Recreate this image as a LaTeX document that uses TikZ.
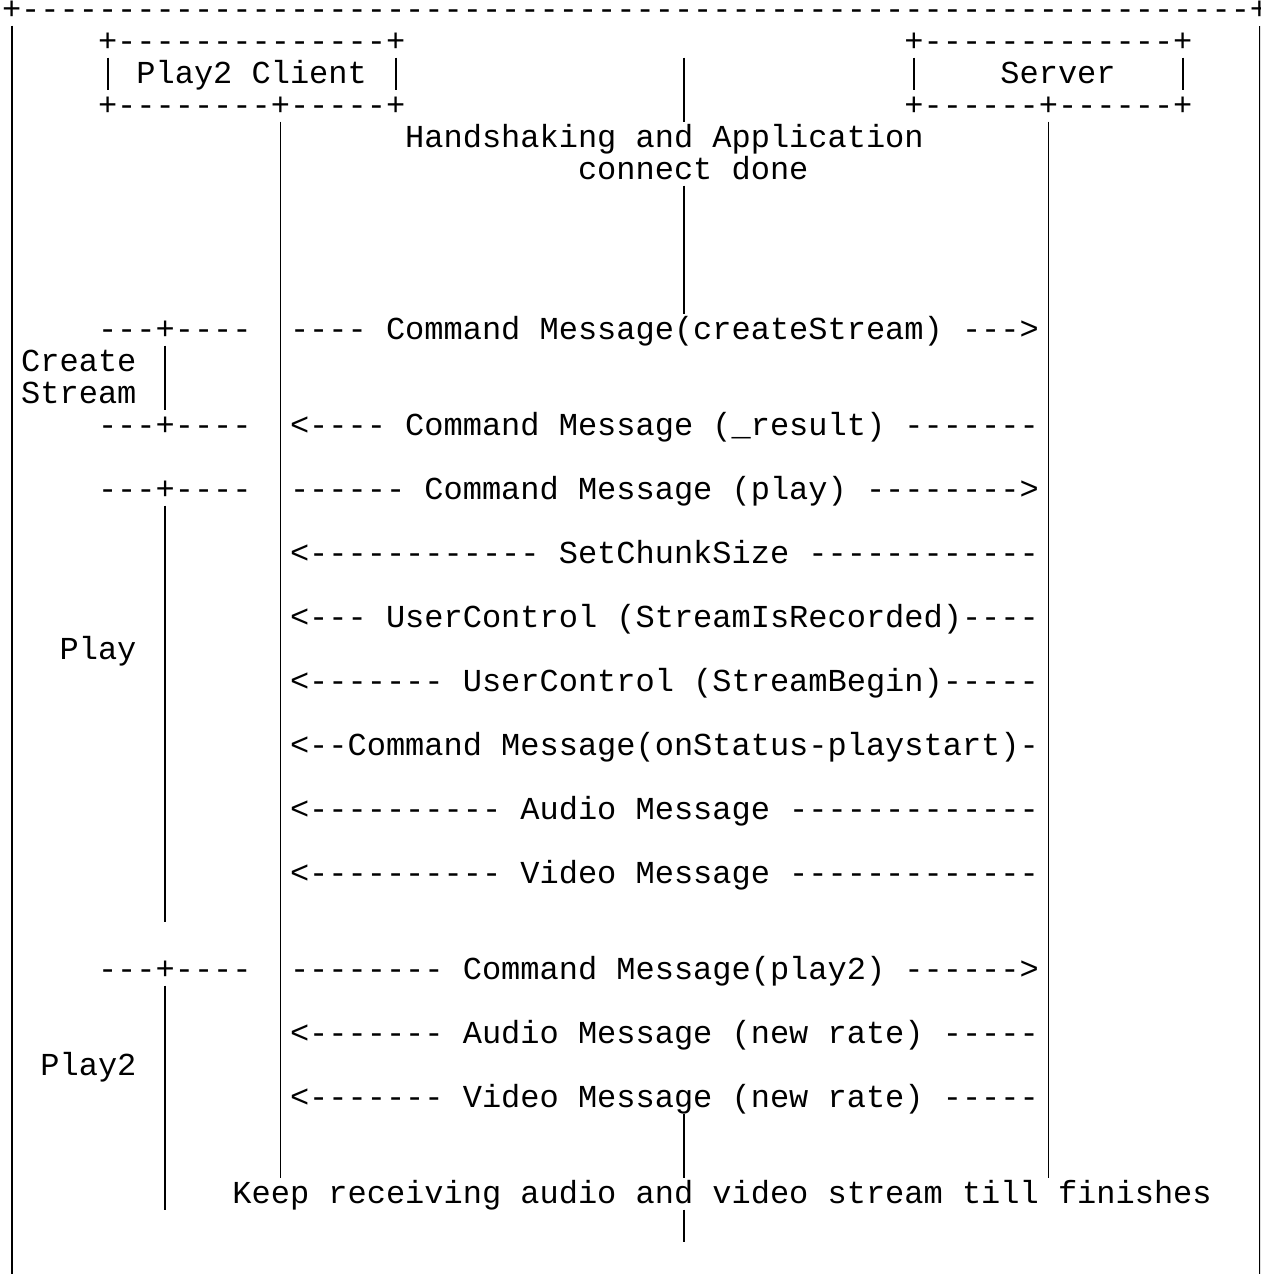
\documentclass[tikz,border=0pt]{standalone}
\usepackage{fontspec}
\newfontfamily\asciifont{Liberation Mono}
% repeat a character: \dup{count}{char}
\newcommand\dup[2]{\ifnum#1>0\relax#2\expandafter\dup\expandafter{\number\numexpr#1-1\relax}{#2}\fi}
\tikzset{
  txt/.style={anchor=base west, inner sep=0pt, outer sep=0pt,
    font=\asciifont\fontsize{16pt}{16pt}\selectfont, text=black},
  bar/.style={draw=black, line width=0.9pt},
}
\begin{document}
\begin{tikzpicture}[x=9.6pt, y=-16pt]
\path[use as bounding box] (0pt,0pt) rectangle (630pt,-637pt);
\fill[white] (0pt,0pt) rectangle (630pt,-637pt);
\clip (0pt,0pt) rectangle (630pt,-637pt);
% grid: one unit = one character cell, origin at the first cell's baseline
\begin{scope}[shift={(0.1042,0.5938)}]
  % outer frame top
  \node[txt] (frame) at (0,0) {+\dup{64}{-}+};
  % participant boxes
  \node[txt] (clienttop) at (5,1) {+\dup{14}{-}+};
  \node[txt] (servertop) at (47,1) {+\dup{13}{-}+};
  \node[txt] (client) at (7,2) {Play2 Client};
  \node[txt] (server) at (52,2) {Server};
  \node[txt] (clientbot) at (5,3) {+\dup{8}{-}+\dup{5}{-}+};
  \node[txt] (serverbot) at (47,3) {+\dup{6}{-}+\dup{6}{-}+};
  % connection note
  \node[txt] (hs1) at (21,4) {Handshaking and Application};
  \node[txt] (hs2) at (30,5) {connect done};
  % createStream phase
  \node[txt] (sep1) at (5,10) {---+----};
  \node[txt] (m1) at (15,10) {---- Command Message(createStream) --->};
  \node[txt] (ph1a) at (1,11) {Create};
  \node[txt] (ph1b) at (1,12) {Stream};
  \node[txt] (sep2) at (5,13) {---+----};
  \node[txt] (m2) at (15,13) {<---- Command Message (\_result) -------};
  % play phase
  \node[txt] (sep3) at (5,15) {---+----};
  \node[txt] (m3) at (15,15) {------ Command Message (play) -------->};
  \node[txt] (m4) at (15,17) {<------------ SetChunkSize ------------};
  \node[txt] (m5) at (15,19) {<--- UserControl (StreamIsRecorded)----};
  \node[txt] (ph2) at (3,20) {Play};
  \node[txt] (m6) at (15,21) {<------- UserControl (StreamBegin)-----};
  \node[txt] (m7) at (15,23) {<--Command Message(onStatus-playstart)-};
  \node[txt] (m8) at (15,25) {<---------- Audio Message -------------};
  \node[txt] (m9) at (15,27) {<---------- Video Message -------------};
  % play2 phase
  \node[txt] (sep4) at (5,30) {---+----};
  \node[txt] (m10) at (15,30) {-------- Command Message(play2) ------>};
  \node[txt] (m11) at (15,32) {<------- Audio Message (new rate) -----};
  \node[txt] (ph3) at (2,33) {Play2};
  \node[txt] (m12) at (15,34) {<------- Video Message (new rate) -----};
  \node[txt] (tail) at (12,37) {Keep receiving audio and video stream till finishes};
  % vertical strokes: column / first row / last row / name
  \foreach \c/\a/\b/\n in {0/1/40/lb, 65/1/40/rb, 14/4/36/cl, 54/4/36/sv,
      35/2/3/mid1, 35/6/9/mid2, 35/35/36/mid3, 35/38/38/mid4,
      8/11/12/br1, 8/16/28/br2, 8/31/37/br3,
      5/2/2/bx1, 20/2/2/bx2, 47/2/2/bx3, 61/2/2/bx4}{
    \coordinate (\n-s) at (\c+0.5,\a-0.79);
    \coordinate (\n-e) at (\c+0.5,\b+0.21);
    \draw[bar] (\n-s) -- (\n-e);
  }
\end{scope}
\end{tikzpicture}
\end{document}
